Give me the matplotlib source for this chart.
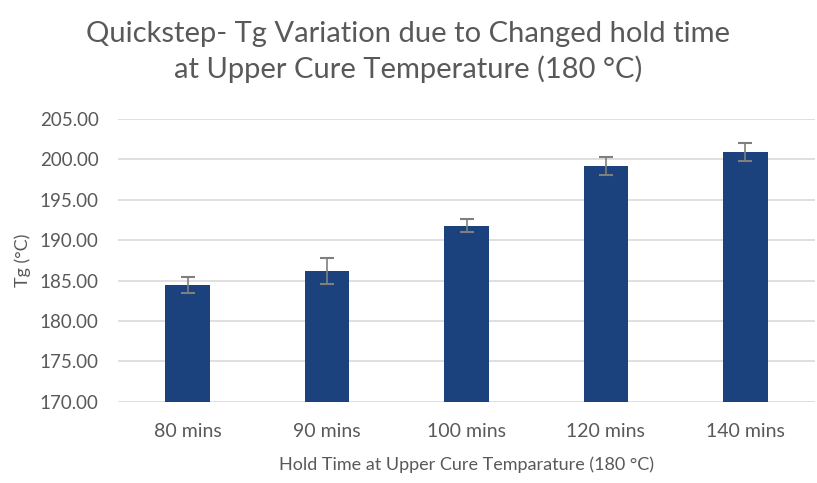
import matplotlib
matplotlib.use("Agg")
import matplotlib.pyplot as plt
import numpy as np

categories = ["80 mins", "90 mins", "100 mins", "120 mins", "140 mins"]
tg_values = [184.4, 186.2, 191.8, 199.2, 200.9]
tg_errors = [1.0, 1.6, 0.8, 1.1, 1.1]
yticks = [170, 175, 180, 185, 190, 195, 200, 205]

plt.rcParams['font.family'] = ['Lato', 'DejaVu Sans']
text_color = "#595959"

fig = plt.figure(figsize=(8.17, 4.83), dpi=100)
ax = fig.add_axes([118/817, 1 - 401.7/483, (815 - 118)/817, (401.7 - 119)/483])

x = np.arange(len(categories))
ax.bar(x, [v - 170 for v in tg_values], bottom=170, width=0.32, color="#1b427c", zorder=3)
ax.errorbar(x, tg_values, yerr=tg_errors, fmt='none', ecolor="#7f7f7f", elinewidth=1.2,
            capsize=5, capthick=1.5, zorder=4)

ax.set_ylim(170, 205)
ax.set_xlim(-0.5, len(categories) - 0.5)
ax.set_yticks(yticks)
ax.set_yticklabels([f"{v:.2f}" for v in yticks], fontsize=13.5, color=text_color)
ax.set_xticks(x)
ax.set_xticklabels(categories, fontsize=14, color=text_color)
ax.tick_params(axis='y', length=0, pad=14)
ax.tick_params(axis='x', length=0, pad=15)
ax.grid(axis='y', color="#d9d9d9", linewidth=1.2, zorder=0)
for s in ax.spines.values():
    s.set_visible(False)

ax.set_ylabel("Tg (°C)", fontsize=13, color=text_color, labelpad=6)
ax.set_xlabel("Hold Time at Upper Cure Temparature (180 °C)", fontsize=13, color=text_color, labelpad=12)

fig.text(0.5, 1 - 52/483, "Quickstep- Tg Variation due to Changed hold time\nat Upper Cure Temperature (180 °C)",
         ha='center', va='center', fontsize=21, color=text_color, linespacing=1.35)

fig.savefig("out.png", dpi=100, facecolor="white")
